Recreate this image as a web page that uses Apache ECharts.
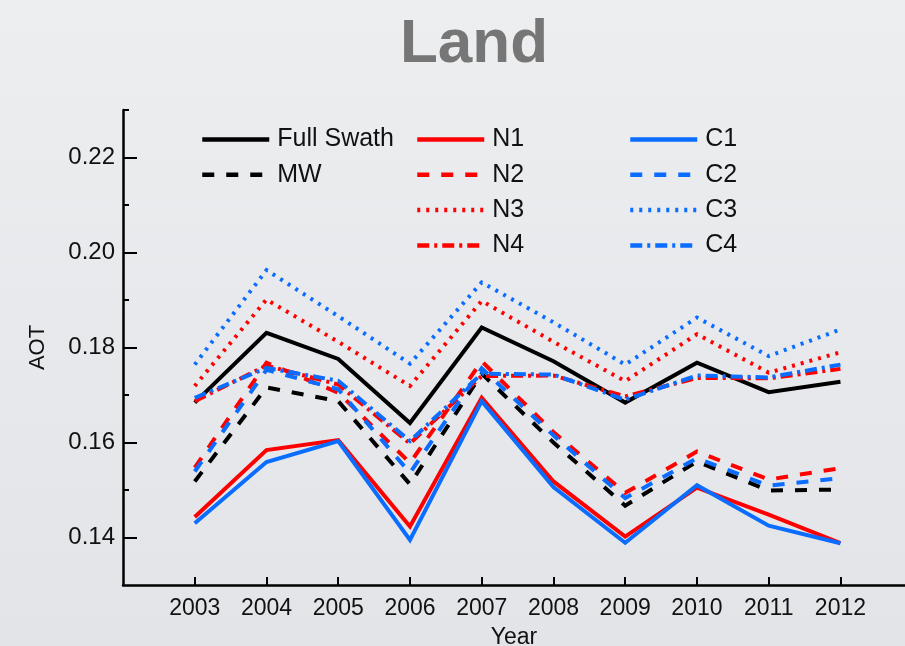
<!DOCTYPE html>
<html>
<head>
<meta charset="utf-8">
<script src="https://cdn.jsdelivr.net/npm/echarts@6/dist/echarts.min.js"></script>
<style>
  html, body { margin: 0; padding: 0; }
  #chart { width: 905px; height: 646px; }
</style>
</head>
<body>
<div id="chart"></div>
<script>
// Yearly mean aerosol optical thickness over land, by sampling scheme
const years = [2003, 2004, 2005, 2006, 2007, 2008, 2009, 2010, 2011, 2012];

const fullSwath = [0.1684, 0.1831, 0.1776, 0.1641, 0.1842, 0.1771, 0.1684, 0.1768, 0.1706, 0.1728];
const mw        = [0.1518, 0.1716, 0.1687, 0.1512, 0.1745, 0.1600, 0.1467, 0.1560, 0.1499, 0.1501];

const n1 = [0.1443, 0.1584, 0.1605, 0.1423, 0.1694, 0.1518, 0.1402, 0.1505, 0.1448, 0.1388];
const n2 = [0.1547, 0.1768, 0.1705, 0.1557, 0.1771, 0.1622, 0.1494, 0.1581, 0.1522, 0.1546];
const n3 = [0.1719, 0.1901, 0.1812, 0.1719, 0.1898, 0.1812, 0.1729, 0.1828, 0.1747, 0.1790];
const n4 = [0.1687, 0.1762, 0.1722, 0.1598, 0.1740, 0.1741, 0.1697, 0.1736, 0.1735, 0.1755];

const c1 = [0.1430, 0.1559, 0.1603, 0.1395, 0.1687, 0.1506, 0.1389, 0.1510, 0.1425, 0.1388];
const c2 = [0.1539, 0.1753, 0.1712, 0.1536, 0.1756, 0.1615, 0.1483, 0.1567, 0.1509, 0.1525];
const c3 = [0.1764, 0.1963, 0.1866, 0.1766, 0.1937, 0.1853, 0.1764, 0.1863, 0.1782, 0.1838];
const c4 = [0.1694, 0.1757, 0.1730, 0.1603, 0.1745, 0.1743, 0.1690, 0.1741, 0.1737, 0.1764];

const yMajorTicks = [0.14, 0.16, 0.18, 0.20, 0.22];
const yMinorTicks = [0.15, 0.17, 0.19, 0.21, 0.23];

const FONT = '"Liberation Sans", Arial, Helvetica, sans-serif';
const RED = '#ff0000';
const BLUE = '#0a6dff';
const BLACK = '#000000';

const SOLID = 'solid';
const DASHED = [12, 12];
const DOTTED = [3, 6];
const DASHDOT = [12, 5, 3, 5];

function makeSeries(name, values, color, dash) {
  return {
    name: name,
    type: 'line',
    data: years.map((y, i) => [y, values[i]]),
    symbol: 'none',
    showSymbol: false,
    silent: true,
    animation: false,
    lineStyle: { color: color, width: 4, type: dash, cap: 'butt', join: 'miter' },
    itemStyle: { color: color }
  };
}

const series = [
  makeSeries('Full Swath', fullSwath, BLACK, SOLID),
  makeSeries('MW', mw, BLACK, DASHED),
  makeSeries('N1', n1, RED, SOLID),
  makeSeries('N2', n2, RED, DASHED),
  makeSeries('N3', n3, RED, DOTTED),
  makeSeries('N4', n4, RED, DASHDOT),
  makeSeries('C1', c1, BLUE, SOLID),
  makeSeries('C2', c2, BLUE, DASHED),
  makeSeries('C3', c3, BLUE, DOTTED),
  makeSeries('C4', c4, BLUE, DASHDOT)
];

function legendColumn(left, names) {
  return {
    data: names,
    left: left,
    top: 122,
    orient: 'vertical',
    itemWidth: 67,
    itemHeight: 14,
    itemGap: 10.3,
    selectedMode: false,
    itemStyle: { opacity: 0 },
    lineStyle: { width: 4.5, cap: 'butt' },
    textStyle: { fontFamily: FONT, fontSize: 25, color: '#111', lineHeight: 24, padding: [0, 0, 0, 3] }
  };
}

const chart = echarts.init(document.getElementById('chart'), null, { renderer: 'canvas' });

chart.setOption({
  animation: false,
  backgroundColor: {
    type: 'linear', x: 0, y: 0, x2: 0, y2: 1,
    colorStops: [{ offset: 0, color: '#eceef0' }, { offset: 1, color: '#e3e4e8' }]
  },
  title: {
    text: 'Land',
    left: 395,
    top: 9,
    textStyle: { fontFamily: FONT, fontSize: 62, fontWeight: 'bold', color: '#767676' }
  },
  legend: [
    legendColumn(195, ['Full Swath', 'MW']),
    legendColumn(410, ['N1', 'N2', 'N3', 'N4']),
    legendColumn(623, ['C1', 'C2', 'C3', 'C4'])
  ],
  grid: { left: 123, right: 0, top: 110, bottom: 61, outerBoundsMode: 'none' },
  xAxis: {
    type: 'value',
    min: 2002,
    max: 2012.9,
    name: 'Year',
    nameLocation: 'middle',
    nameGap: 41,
    nameTextStyle: { fontFamily: FONT, fontSize: 23, color: '#111' },
    axisLine: { show: true, onZero: false, lineStyle: { color: BLACK, width: 2.5 } },
    axisTick: { show: true, inside: true, length: 8, customValues: years, lineStyle: { color: BLACK, width: 2 } },
    axisLabel: { show: true, customValues: years, margin: 12, fontFamily: FONT, fontSize: 23, color: '#111', formatter: v => String(v) },
    splitLine: { show: false }
  },
  yAxis: [
    {
      type: 'value',
      min: 0.13,
      max: 0.23,
      name: 'AOT',
      nameLocation: 'middle',
      nameGap: 74,
      nameTextStyle: { fontFamily: FONT, fontSize: 22, color: '#111' },
      axisLine: { show: true, onZero: false, lineStyle: { color: BLACK, width: 2.5 } },
      axisTick: { show: true, inside: true, length: 14, customValues: yMajorTicks, lineStyle: { color: BLACK, width: 2 } },
      axisLabel: { show: true, customValues: yMajorTicks, margin: 8, fontFamily: FONT, fontSize: 24, color: '#111', formatter: v => v.toFixed(2) },
      splitLine: { show: false }
    },
    {
      type: 'value',
      min: 0.13,
      max: 0.23,
      position: 'left',
      axisLine: { show: false },
      axisTick: { show: true, inside: true, length: 6, customValues: yMinorTicks, lineStyle: { color: BLACK, width: 2 } },
      axisLabel: { show: false },
      splitLine: { show: false }
    }
  ],
  series: series
});
</script>
</body>
</html>
